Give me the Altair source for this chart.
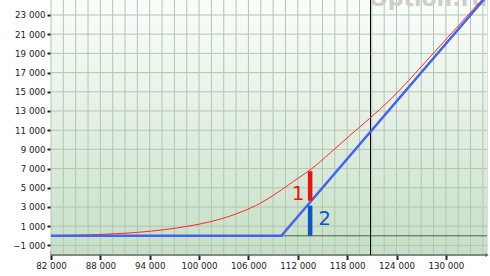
import altair as alt
import pandas as pd

# ---- data ----
price = [82000, 85000, 88000, 91000, 94000, 97000, 100000, 102500, 105000, 107500,
         110000, 112000, 113500, 116000, 118300, 120750, 123200, 125500, 128000,
         131700, 135000]
option_value = [20, 60, 140, 270, 470, 780, 1210, 1720, 2440, 3420,
                4780, 5980, 6860, 8680, 10420, 12240, 14150, 16200, 18560,
                22050, 25180]
payoff_x = [82000, 110000, 135000]
payoff_y = [0, 0, 25000]
current_price = 120840
bar_x = 113500
bar1 = [3650, 6730]
bar2 = [0, 3150]
label_names = ["1", "2"]
label_x = [112050, 115250]
label_y = [4390, 1780]
x_ticks = [82000, 88000, 94000, 100000, 106000, 112000, 118000, 124000, 130000]
y_ticks = [-1000, 1000, 3000, 5000, 7000, 9000, 11000, 13000, 15000, 17000, 19000, 21000, 23000]
x_grid = [82000 + 1500 * i for i in range(36)]
X_DOMAIN = [82000, 135000]
Y_DOMAIN = [-2000, 24560]

W, H = 436, 255
FONT = "DejaVu Sans"

xs = alt.Scale(domain=X_DOMAIN, nice=False, zero=False)
ys = alt.Scale(domain=Y_DOMAIN, nice=False, zero=False)
lbl = "replace(format(datum.value, ','), ',', ' ')"

X_AX = alt.Axis(values=x_ticks, labelExpr=lbl, grid=False, domain=False, offset=-4.5,
                tickSize=9, tickWidth=2, tickColor="#222222", labelPadding=2, title=None,
                labelFont=FONT, labelFontSize=8.7, labelColor="#222222", labelFlush=False)
Y_AX = alt.Axis(values=y_ticks, labelExpr=lbl, grid=False, domain=False, offset=-6,
                tickSize=10, tickWidth=2, tickColor="#222222", labelPadding=2, title=None,
                labelFont=FONT, labelFontSize=8.7, labelColor="#222222")


def X(f="x:Q"):
    return alt.X(f, scale=xs, axis=X_AX, title=None)


def Y(f="y:Q"):
    return alt.Y(f, scale=ys, axis=Y_AX, title=None)


bg = alt.Chart(pd.DataFrame({"a": [0]})).mark_rect(
    fill=alt.Gradient(gradient="linear", x1=0, x2=0, y1=0, y2=1,
                      stops=[alt.GradientStop(offset=0, color="#fbfdfb"),
                             alt.GradientStop(offset=0.5, color="#e2efe2"),
                             alt.GradientStop(offset=1, color="#c6dfc6")]),
    strokeWidth=0).encode(x=alt.value(0), x2=alt.value(W), y=alt.value(0), y2=alt.value(H))

grid_h = alt.Chart(pd.DataFrame({"y": y_ticks})).mark_rule(color="#b2c6b2", strokeWidth=1).encode(y=Y())
grid_v = alt.Chart(pd.DataFrame({"x": x_grid})).mark_rule(color="#b2c6b2", strokeWidth=1).encode(x=X())

zero = alt.Chart(pd.DataFrame({"y": [0]})).mark_rule(color="#4f5f4f", strokeWidth=1).encode(y=Y())
xline = alt.Chart(pd.DataFrame({"y": [Y_DOMAIN[0]]})).mark_rule(color="#6a6a6a", strokeWidth=1.5).encode(y=Y())
arrow = alt.Chart(pd.DataFrame({"x": [X_DOMAIN[1]], "y": [Y_DOMAIN[0]]})).mark_point(
    shape="triangle-right", filled=True, size=18, color="#6a6a6a", opacity=1).encode(x=X(), y=Y())

vline = alt.Chart(pd.DataFrame({"x": [current_price]})).mark_rule(color="#000000", strokeWidth=1).encode(x=X())

red = alt.Chart(pd.DataFrame({"x": price, "y": option_value})).mark_line(
    color="#ff2626", strokeWidth=1, clip=True, interpolate="monotone").encode(x=X(), y=Y())
blue = alt.Chart(pd.DataFrame({"x": payoff_x, "y": payoff_y})).mark_line(
    color="#4663f0", strokeWidth=2.5, clip=True).encode(x=X(), y=Y())

bars = alt.Chart(pd.DataFrame({"x": [bar_x, bar_x], "y": [bar1[0], bar2[0]], "y2": [bar1[1], bar2[1]],
                               "k": ["1", "2"]})).mark_rule(strokeWidth=4.5).encode(
    x=X(), y=Y(), y2="y2:Q",
    color=alt.Color("k:N", scale=alt.Scale(domain=["1", "2"], range=["#ee1111", "#0d55c8"]), legend=None))

labels = alt.Chart(pd.DataFrame({"x": label_x, "y": label_y, "t": label_names})).mark_text(
    font=FONT, fontSize=20, baseline="middle", align="center").encode(
    x=X(), y=Y(), text="t:N",
    color=alt.Color("t:N", scale=alt.Scale(domain=["1", "2"], range=["#ee1111", "#1a66d6"]), legend=None))

watermark = alt.Chart(pd.DataFrame({"t": ["Option.ru"]})).mark_text(
    font=FONT, fontSize=22, fontWeight="bold", color="#cdcdcd", align="left", baseline="alphabetic").encode(
    x=alt.value(318), y=alt.value(6), text="t:N")

chart = alt.layer(bg, grid_h, grid_v, watermark, zero, xline, arrow, vline, red, blue, bars, labels).properties(
    width=W, height=H,
    autosize=alt.AutoSizeParams(type="none"),
    padding={"left": 51, "top": 0, "right": 3, "bottom": 21},
).configure_view(
    strokeWidth=0,
).configure(background="#ffffff")

chart.save("out.html", embed_options={"renderer": "svg", "actions": False})
